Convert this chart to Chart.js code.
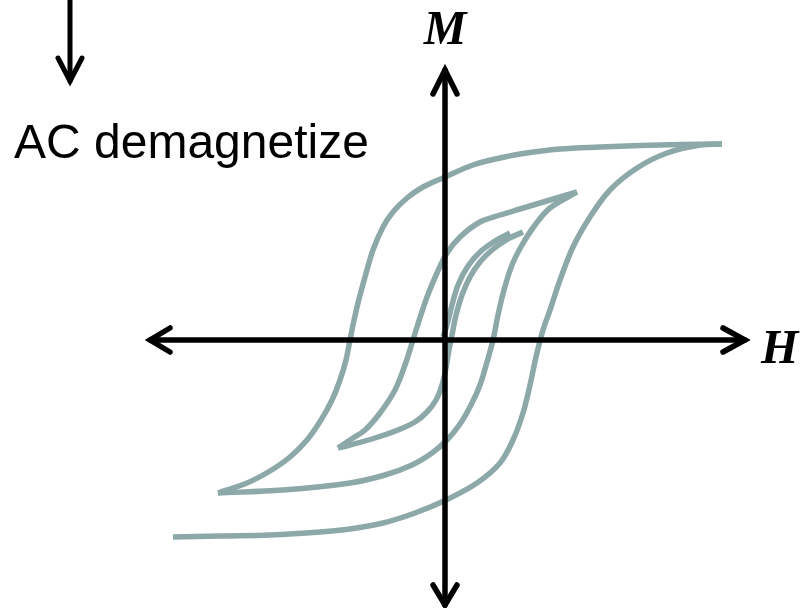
<!DOCTYPE html>
<html lang="en">
<head>
  <meta charset="UTF-8">
  <title>AC demagnetize</title>
  <style>
    body { margin: 0; background: #fff; overflow: hidden; }
    canvas { display: block; }
  </style>
  <script src="https://cdn.jsdelivr.net/npm/chart.js"></script>
</head>
<body>
  <canvas id="loopChart" width="806" height="608"></canvas>

  <script>
    // Branches of the demagnetization path, [H, M] pairs (arbitrary units)
    const majorUp = [
      [-27.2,-19.7], [-22.5,-19.6], [-17.5,-19.5], [-12.5,-19.2], [-9.5,-18.9], [-6.2,-18.3],
      [-3,-17.3], [0.1,-16], [3.2,-14.3], [5.5,-12.3], [6.8,-10], [7.8,-7.3], [8.5,-4.5],
      [9.1,-1.7], [9.8,1], [10.5,3], [11.5,6], [12.8,9.3], [14.5,12.3], [16.5,15],
      [19.2,17.2], [22.2,18.7], [25.5,19.5], [27.7,19.6]
    ];
    const majorDown = [
      [27.7,19.6], [23.5,19.55], [19.5,19.45], [15.5,19.3], [11.5,19.1], [7.5,18.6],
      [5.5,18.2], [2.8,17.5], [0,16.3], [-2.2,15.3], [-3.8,14.2], [-5.2,12.8], [-6.2,11.3],
      [-7.2,9], [-8,6.3], [-8.7,3.7], [-9.2,1.5], [-9.5,0], [-9.9,-2], [-10.5,-4],
      [-11.3,-6], [-12.4,-8], [-13.8,-10], [-15.5,-11.7], [-17.5,-13.1], [-19.8,-14.3], [-22.7,-15.3]
    ];
    const midUp = [
      [-22.7,-15.3], [-16.2,-15], [-9.5,-14.3], [-6,-13.5], [-3.3,-12.5], [-1.3,-11.3],
      [0.2,-10], [1.5,-8.4], [2.6,-6.5], [3.5,-4.5], [4.2,-2.2], [4.8,0], [5.3,2.5],
      [5.9,5], [6.7,7.5], [7.7,9.5], [9,11.5], [10.5,13.2], [13.2,14.8]
    ];
    const midDown = [
      [13.2,14.8], [10.5,14], [7.5,13.1], [5.5,12.5], [3.5,11.8], [1.5,10.3], [0.2,8.7],
      [-0.8,6.7], [-1.8,4.3], [-2.8,1.3], [-3.2,0], [-4,-2.5], [-5,-5], [-6.5,-7.3],
      [-8,-9], [-9.5,-10], [-10.7,-10.8]
    ];
    const smallUp = [
      [-10.7,-10.8], [-9.5,-10.5], [-7,-9.8], [-4.7,-9], [-3,-8.2], [-1.8,-7.2],
      [-0.9,-6], [-0.3,-4.5], [0.1,-2.8], [0.4,-1], [0.7,0.5], [1.1,2.5], [1.7,4.5],
      [2.5,6.3], [3.5,7.8], [4.7,9], [6.1,10], [7.8,10.8]
    ];
    const smallDown = [
      [6.5,10.7], [5,9.9], [3.5,8.8], [2.3,7.4], [1.3,5.5], [0.7,3.5], [0.2,1.5], [-0.2,0.3]
    ];
    const branches = [majorUp, majorDown, midUp, midDown, smallUp, smallDown];

    const LOOP_COLOR = '#8ca8a8';

    // axis arrows and labels, drawn on top of the curves
    const axesPlugin = {
      id: 'axesArrows',
      afterDatasetsDraw(chart) {
        const { ctx, scales: { x, y } } = chart;
        const px = v => x.getPixelForValue(v);
        const py = v => y.getPixelForValue(v);
        ctx.save();
        ctx.strokeStyle = '#000';
        ctx.fillStyle = '#000';
        ctx.lineCap = 'round';
        ctx.lineJoin = 'miter';

        function arrowLine(x1, y1, x2, y2, w, len, half) {
          ctx.lineWidth = w;
          ctx.beginPath();
          ctx.moveTo(x1, y1);
          ctx.lineTo(x2, y2);
          ctx.stroke();
          const a = Math.atan2(y2 - y1, x2 - x1);
          ctx.beginPath();
          ctx.moveTo(x2 - len * Math.cos(a) + half * Math.sin(a), y2 - len * Math.sin(a) - half * Math.cos(a));
          ctx.lineTo(x2, y2);
          ctx.lineTo(x2 - len * Math.cos(a) - half * Math.sin(a), y2 - len * Math.sin(a) + half * Math.cos(a));
          ctx.stroke();
        }

        // H axis, double headed
        const ox = px(0), oy = py(0);
        arrowLine(px(0), oy, px(30), oy, 5.5, 22, 12);
        arrowLine(px(0), oy, px(-29.5), oy, 5.5, 20, 12);
        // M axis, double headed
        arrowLine(ox, oy, ox, py(27), 5.5, 24, 12);
        arrowLine(ox, oy, ox, py(-26.5), 5.5, 20, 12);

        // down arrow above the caption
        arrowLine(px(-37.5), 0, px(-37.5), py(25.9), 5, 23, 12);

        ctx.font = '48px "Liberation Sans", Arial, sans-serif';
        ctx.textBaseline = 'alphabetic';
        ctx.textAlign = 'left';
        ctx.fillText('AC demagnetize', 14, 158);

        ctx.font = 'italic bold 48px "Liberation Serif", "Times New Roman", serif';
        ctx.textAlign = 'center';
        ctx.fillText('M', ox, 44);
        ctx.textAlign = 'left';
        ctx.fillText('H', 761, 363);
        ctx.restore();
      }
    };

    new Chart(document.getElementById('loopChart'), {
      type: 'scatter',
      data: {
        datasets: branches.map(b => ({
          data: b.map(p => ({ x: p[0], y: p[1] })),
          showLine: true,
          borderColor: LOOP_COLOR,
          borderWidth: 5.5,
          pointRadius: 0,
          tension: 0.35,
          borderCapStyle: 'butt',
          clip: false
        }))
      },
      options: {
        responsive: false,
        animation: false,
        layout: { padding: 0 },
        plugins: { legend: { display: false }, tooltip: { enabled: false } },
        scales: {
          x: { type: 'linear', display: false, min: -44.5, max: 36.1 },
          y: { type: 'linear', display: false, min: -26.8, max: 34 }
        }
      },
      plugins: [axesPlugin]
    });
  </script>
</body>
</html>
